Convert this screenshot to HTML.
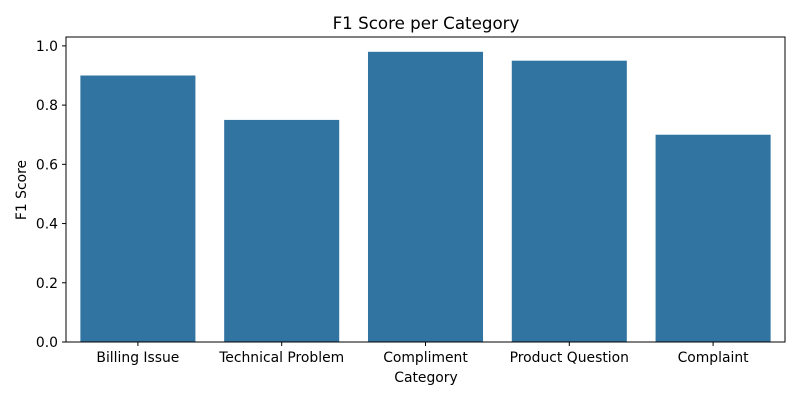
<!DOCTYPE html>
<html><head><meta charset="utf-8"><style>
body{margin:0;background:#fff;}
svg text{font-family:"DejaVu Sans","Liberation Sans",sans-serif;fill:#000;}
</style></head><body>
<svg id="chart" width="800" height="400">
<text x="426" y="29" font-size="16.7" text-anchor="middle">F1 Score per Category</text>
<g id="bars"></g>
<g id="yticks"></g>
<g id="xticks"></g>
<rect x="66" y="37" width="719" height="305" fill="none" stroke="#000" stroke-width="1"/>
<text x="426" y="382" font-size="13.9" text-anchor="middle">Category</text>
<text transform="translate(26,190) rotate(-90)" font-size="13.9" text-anchor="middle">F1 Score</text>
</svg>
<script>
const categories=["Billing Issue","Technical Problem","Compliment","Product Question","Complaint"];
const values=[0.90,0.75,0.98,0.95,0.70];
const yTicks=[0,0.2,0.4,0.6,0.8,1.0];
const tickLabels=["0.0","0.2","0.4","0.6","0.8","1.0"];
const NS="http://www.w3.org/2000/svg";
const L=66,R=785,T=37,B=342,ymax=1.03;
const y=v=>B-(v/ymax)*(B-T);
const step=(R-L)/categories.length;
const xc=i=>L+step*(i+0.5);
const bars=document.getElementById('bars'),yt=document.getElementById('yticks'),xt=document.getElementById('xticks');
function mk(t,a){const e=document.createElementNS(NS,t);for(const k in a)e.setAttribute(k,a[k]);return e;}
values.forEach((v,i)=>{
  const w=step*0.8;
  const r=mk('rect',{x:xc(i)-w/2,y:y(v),width:w,height:B-y(v),fill:'#3274a1'});
  
  
  bars.appendChild(r);
  const tk=mk('line',{x1:xc(i),x2:xc(i),y1:B,y2:B+4,stroke:'#000'});
  
  
  xt.appendChild(tk);
  const tx=mk('text',{x:xc(i),y:B+20,'font-size':13.9,'text-anchor':'middle'});
  tx.textContent=categories[i];
  
  
  xt.appendChild(tx);
});
yTicks.forEach((v,i)=>{
  const tk=mk('line',{x1:L-4,x2:L,y1:y(v),y2:y(v),stroke:'#000'});
  
  
  yt.appendChild(tk);
  const tx=mk('text',{x:L-8,y:y(v)+5,'font-size':13.9,'text-anchor':'end'});
  tx.textContent=tickLabels[i];
  
  
  yt.appendChild(tx);
});
</script>
</body></html>
